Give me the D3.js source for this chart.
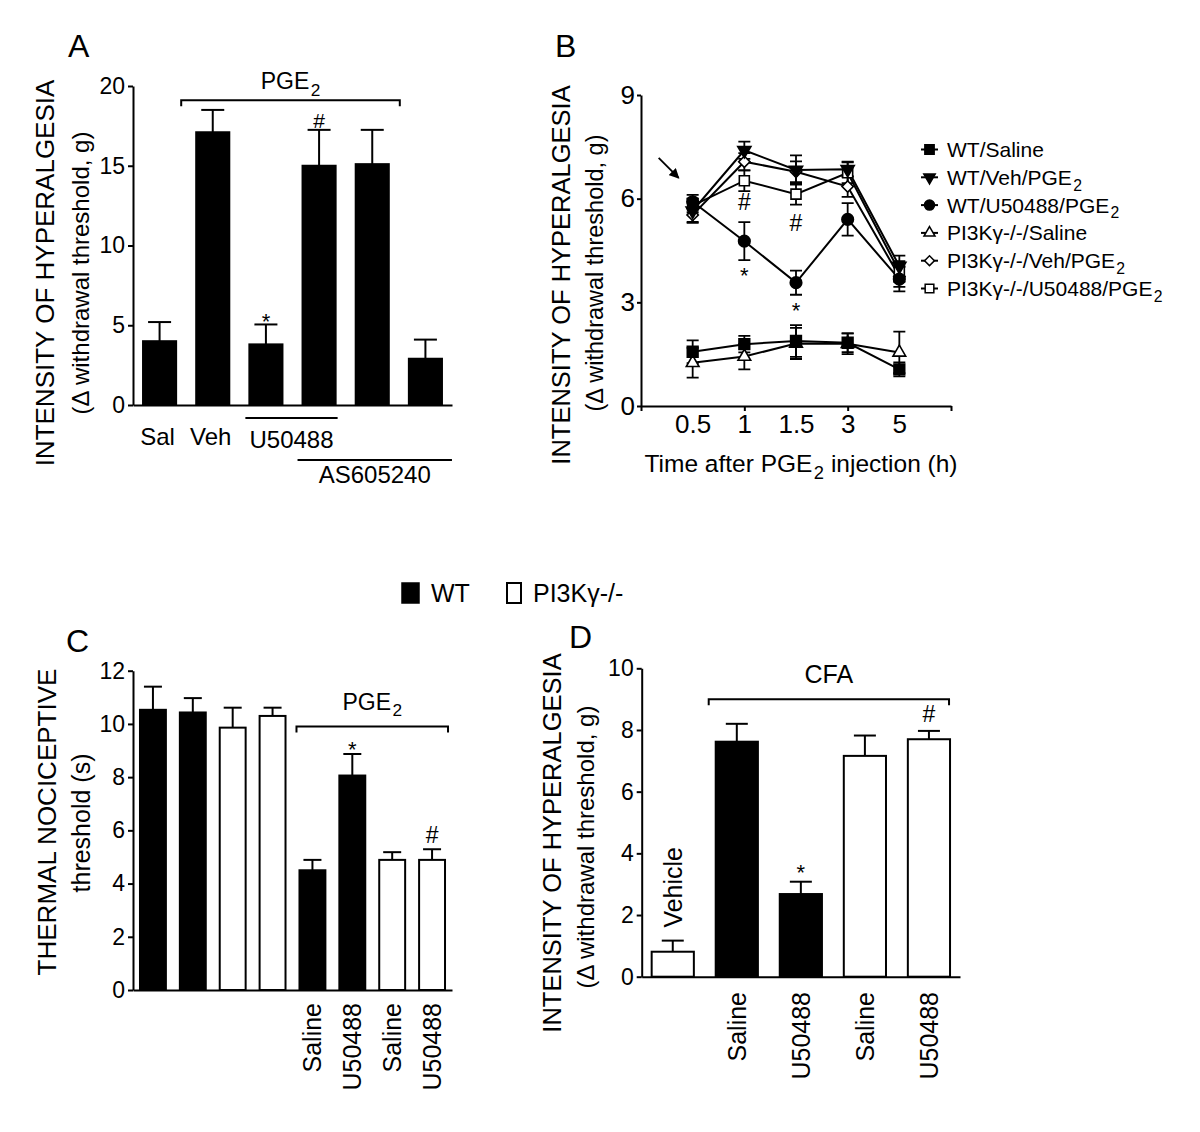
<!DOCTYPE html>
<html><head><meta charset="utf-8">
<script src="https://cdn.jsdelivr.net/npm/d3@7"></script>
<style>
body{margin:0;background:#fff}
svg{display:block}
text{font-family:"Liberation Sans",Arial,Helvetica,sans-serif;fill:#000}
</style>
</head><body>
<svg id="fig" width="1200" height="1132"></svg>
<script>
// ---------------- DATA ----------------
// Panel A
const aCategories = ["Sal", "Veh", "U50488", "U50488+AS605240", "AS605240", "AS605240 alone"];
const aMeans = [4.0, 17.1, 3.8, 15.0, 15.1, 2.9];
const aSEM = [1.2, 1.4, 1.25, 2.25, 2.15, 1.2];
const aMarks = ["", "", "*", "#", "", ""];
const aTicks = [0, 5, 10, 15, 20];

// Panel B
const bTimes = ["0.5", "1", "1.5", "3", "5"];
const bNames = ["WT/Saline", "WT/Veh/PGE2", "WT/U50488/PGE2", "PI3K\u03b3-/-/Saline", "PI3K\u03b3-/-/Veh/PGE2", "PI3K\u03b3-/-/U50488/PGE2"];
const bWTSaline = [1.57, 1.79, 1.88, 1.83, 1.06];
const bWTSalineSEM = [0.33, 0.24, 0.46, 0.27, 0.2];
const bWTVeh = [5.65, 7.4, 6.83, 6.85, 4.05];
const bWTVehSEM = [0.35, 0.25, 0.42, 0.22, 0.3];
const bWTU50488 = [5.91, 4.77, 3.57, 5.4, 3.67];
const bWTU50488SEM = [0.2, 0.55, 0.35, 0.47, 0.35];
const bKOSaline = [1.25, 1.43, 1.81, 1.8, 1.55];
const bKOSalineSEM = [0.43, 0.37, 0.45, 0.3, 0.6];
const bKOVeh = [5.53, 7.07, 6.78, 6.35, 3.75];
const bKOVehSEM = [0.2, 0.25, 0.3, 0.3, 0.3];
const bKOU50488 = [5.8, 6.52, 6.13, 6.75, 3.89];
const bKOU50488SEM = [0.2, 0.3, 0.3, 0.3, 0.3];
const bTicks = [0, 3, 6, 9];

// Panel C
const cGenotype = ["WT", "WT", "PI3K", "PI3K", "WT", "WT", "PI3K", "PI3K"];
const cLabels = ["", "", "", "", "Saline", "U50488", "Saline", "U50488"];
const cMeans = [10.53, 10.43, 9.86, 10.3, 4.5, 8.06, 4.89, 4.89];
const cSEM = [0.87, 0.54, 0.75, 0.31, 0.39, 0.81, 0.29, 0.4];
const cMarks = ["", "", "", "", "", "*", "", "#"];
const cTicks = [0, 2, 4, 6, 8, 10, 12];

// Panel D
const dGenotype = ["PI3K", "WT", "WT", "PI3K", "PI3K"];
const dLabels = ["Vehicle", "Saline", "U50488", "Saline", "U50488"];
const dMeans = [0.81, 7.62, 2.68, 7.16, 7.7];
const dSEM = [0.36, 0.58, 0.4, 0.66, 0.27];
const dMarks = ["", "", "*", "", "#"];
const dTicks = [0, 2, 4, 6, 8, 10];

const legendGenotypes = ["WT", "PI3K\u03b3-/-"];

// ---------------- HELPERS ----------------
const svg = d3.select("#fig");
svg.append("rect").attr("width", 1200).attr("height", 1132).attr("fill", "#fff");
const FILL = {WT: "#000", PI3K: "#fff"};

// text with automatic subscript for the 2 of "PGE2"
function addText(g, x, y, content, o) {
  const t = g.append("text")
    .attr("transform", `translate(${x},${y})` + (o.rotate ? ` rotate(${o.rotate})` : ""))
    .attr("font-size", o.size)
    .attr("text-anchor", o.anchor || "start");
  if (o.dy) t.attr("dy", o.dy);
  let parts = [];
  const re = /PGE2/g; let last = 0, m;
  while ((m = re.exec(content)) !== null) {
    parts.push([content.slice(last, m.index) + "PGE", false]);
    parts.push(["2", true]);
    last = m.index + 4;
  }
  parts.push([content.slice(last), false]);
  parts = parts.filter(p => p[0].length);
  let prevSub = false;
  const shift = o.size * 0.28;
  parts.forEach(([s, sub]) => {
    const ts = t.append("tspan").text(s);
    if (sub) ts.attr("font-size", o.size * 0.75).attr("dx", o.size * 0.06);
    if (sub && !prevSub) ts.attr("dy", shift);
    else if (!sub && prevSub) ts.attr("dy", -shift);
    prevSub = sub;
  });
  return t;
}

function styleAxis(g, fs, sw) {
  g.selectAll(".domain").attr("stroke", "#000").attr("stroke-width", sw || 2);
  g.selectAll(".tick line").attr("stroke", "#000").attr("stroke-width", sw || 2);
  g.selectAll(".tick text").attr("font-size", fs).attr("fill", "#000")
    .attr("font-family", '"Liberation Sans",Arial,sans-serif');
  g.attr("font-family", null).attr("font-size", null);
}

function bracket(g, x1, x2, y, drop) {
  g.append("path").attr("d", `M${x1},${y + drop}V${y}H${x2}V${y + drop}`)
    .attr("fill", "none").attr("stroke", "#000").attr("stroke-width", 2);
}

function barPanel(cfg) {
  const g = svg.append("g");
  const x = d3.scaleBand().domain(d3.range(cfg.means.length)).range([cfg.x0, cfg.x1])
    .paddingInner(cfg.pi).paddingOuter(cfg.po);
  const y = d3.scaleLinear().domain(cfg.domain).range([cfg.yb, cfg.yt]);
  const bw = x.bandwidth();
  cfg.means.forEach((v, i) => {
    const cx = x(i) + bw / 2;
    g.append("line").attr("x1", cx).attr("x2", cx).attr("y1", y(v)).attr("y2", y(v + cfg.sem[i]))
      .attr("stroke", "#000").attr("stroke-width", 2);
    g.append("line").attr("x1", cx - cfg.cap / 2).attr("x2", cx + cfg.cap / 2)
      .attr("y1", y(v + cfg.sem[i])).attr("y2", y(v + cfg.sem[i]))
      .attr("stroke", "#000").attr("stroke-width", 2);
  });
  g.selectAll("rect.bar").data(cfg.means).join("rect").attr("class", "bar")
    .attr("x", (d, i) => x(i) + 1).attr("width", bw - 2)
    .attr("y", d => y(d)).attr("height", d => y(0) - y(d))
    .attr("fill", (d, i) => cfg.fill[i]).attr("stroke", "#000").attr("stroke-width", 2);
  const ya = g.append("g").attr("transform", `translate(${cfg.x0},0)`)
    .call(d3.axisLeft(y).tickValues(cfg.ticks).tickSize(5).tickSizeOuter(0).tickPadding(3));
  styleAxis(ya, cfg.tickFs);
  const xa = g.append("g").attr("transform", `translate(0,${cfg.yb})`)
    .call(d3.axisBottom(x).tickSize(0).tickSizeOuter(0).tickFormat(""));
  styleAxis(xa, cfg.tickFs);
  cfg.marks.forEach((m, i) => {
    if (!m) return;
    const top = y(cfg.means[i] + cfg.sem[i]);
    addText(g, x(i) + bw / 2, top + (m === "*" ? cfg.starOff : cfg.hashOff), m,
      {size: m === "*" ? cfg.starFs : cfg.hashFs, anchor: "middle"});
  });
  return {g, x, y, bw};
}

// ---------------- PANEL A ----------------
{
  const P = barPanel({means: aMeans, sem: aSEM, domain: [0, 20], ticks: aTicks,
    x0: 133, x1: 452, yb: 405, yt: 86, pi: 0.34, po: 0.17, cap: 23, tickFs: 23,
    fill: aMeans.map(() => "#000"), marks: aMarks, starOff: 5, hashOff: -2, starFs: 22, hashFs: 21});
  const {g, x, y, bw} = P;
  addText(g, 68, 57, "A", {size: 32});
  addText(g, 45, 273, "INTENSITY OF HYPERALGESIA", {size: 26, anchor: "middle", rotate: -90, dy: "0.36em"});
  addText(g, 82, 273, "(\u0394 withdrawal threshold, g)", {size: 24, anchor: "middle", rotate: -90, dy: "0.3em"});
  const bx1 = x(1) - 14, bx2 = x(4) + bw + 10, by = y(19.1);
  bracket(g, bx1, bx2, by, 6);
  addText(g, (bx1 + bx2) / 2, by - 11, "PGE2", {size: 23, anchor: "middle"});
  addText(g, x(0) + bw / 2 - 2, 445, aCategories[0], {size: 24, anchor: "middle"});
  addText(g, x(1) + bw / 2 - 2, 445, aCategories[1], {size: 24, anchor: "middle"});
  const u1 = x(2) - 3, u2 = x(3) + bw + 1;
  g.append("line").attr("x1", u1).attr("x2", u2).attr("y1", 418).attr("y2", 418).attr("stroke", "#000").attr("stroke-width", 2);
  addText(g, (u1 + u2) / 2, 448, "U50488", {size: 24, anchor: "middle"});
  const a1 = x(3) - 4, a2 = x(5) + bw + 9;
  g.append("line").attr("x1", a1).attr("x2", a2).attr("y1", 460).attr("y2", 460).attr("stroke", "#000").attr("stroke-width", 2);
  addText(g, (a1 + a2) / 2, 483, "AS605240", {size: 24, anchor: "middle"});
}

// ---------------- PANEL B ----------------
{
  const g = svg.append("g");
  const xB = d3.scaleLinear().domain([0, bTimes.length + 1]).range([641, 951]);
  const yB = d3.scaleLinear().domain([0, 9]).range([406, 95]);
  const tri = d3.symbolTriangle;
  const series = [
    {name: bNames[0], v: bWTSaline, e: bWTSalineSEM, type: d3.symbolSquare, size: 115, rot: 0, filled: true},
    {name: bNames[1], v: bWTVeh, e: bWTVehSEM, type: tri, size: 75, rot: 180, filled: true},
    {name: bNames[2], v: bWTU50488, e: bWTU50488SEM, type: d3.symbolCircle, size: 105, rot: 0, filled: true},
    {name: bNames[3], v: bKOSaline, e: bKOSalineSEM, type: tri, size: 70, rot: 0, filled: false},
    {name: bNames[4], v: bKOVeh, e: bKOVehSEM, type: d3.symbolSquare, size: 64, rot: 45, filled: false},
    {name: bNames[5], v: bKOU50488, e: bKOU50488SEM, type: d3.symbolSquare, size: 100, rot: 0, filled: false}
  ];
  const line = d3.line().x((d, i) => xB(i + 1)).y(d => yB(d));
  series.forEach(s => {
    g.append("path").attr("d", line(s.v)).attr("fill", "none").attr("stroke", "#000").attr("stroke-width", 2);
  });
  series.forEach(s => {
    s.v.forEach((v, i) => {
      const cx = xB(i + 1);
      g.append("path").attr("d", `M${cx},${yB(v - s.e[i])}V${yB(v + s.e[i])}M${cx - 6},${yB(v + s.e[i])}h12M${cx - 6},${yB(v - s.e[i])}h12`)
        .attr("stroke", "#000").attr("stroke-width", 1.8).attr("fill", "none");
    });
  });
  const order = [3, 4, 5, 0, 1, 2];
  order.forEach(k => {
    const s = series[k];
    s.v.forEach((v, i) => {
      g.append("path").attr("d", d3.symbol().type(s.type).size(s.size)())
        .attr("transform", `translate(${xB(i + 1)},${yB(v)}) rotate(${s.rot})`)
        .attr("fill", s.filled ? "#000" : "#fff").attr("stroke", "#000").attr("stroke-width", 1.6);
    });
  });
  const ya = g.append("g").attr("transform", "translate(641,0)")
    .call(d3.axisLeft(yB).tickValues(bTicks).tickSize(4).tickSizeOuter(0).tickPadding(2));
  styleAxis(ya, 26);
  const xa = g.append("g").attr("transform", "translate(0,406)")
    .call(d3.axisBottom(xB).tickValues([0, 2, 4, 6]).tickSize(5).tickSizeOuter(0).tickFormat(""));
  styleAxis(xa, 25);
  const xl = g.append("g").attr("transform", "translate(0,406)")
    .call(d3.axisBottom(xB).tickValues(d3.range(1, bTimes.length + 1)).tickSize(0).tickPadding(9)
      .tickFormat(i => bTimes[i - 1]));
  xl.select(".domain").remove();
  styleAxis(xl, 26);
  addText(g, 555, 57, "B", {size: 32});
  addText(g, 561, 275, "INTENSITY OF HYPERALGESIA", {size: 25.5, anchor: "middle", rotate: -90, dy: "0.36em"});
  addText(g, 596, 273, "(\u0394 withdrawal threshold, g)", {size: 23.5, anchor: "middle", rotate: -90, dy: "0.3em"});
  addText(g, 801, 472, "Time after PGE2 injection (h)", {size: 24.5, anchor: "middle"});
  const defs = svg.append("defs");
  defs.append("marker").attr("id", "ah").attr("viewBox", "0 0 10 10").attr("refX", 9).attr("refY", 5)
    .attr("markerWidth", 10).attr("markerHeight", 10).attr("markerUnits", "userSpaceOnUse").attr("orient", "auto")
    .append("path").attr("d", "M0,0L10,5L0,10z").attr("fill", "#000");
  const tipX = xB(1) - 14, tipY = yB(6.6);
  g.append("line").attr("x1", tipX - 20).attr("y1", tipY - 20).attr("x2", tipX).attr("y2", tipY)
    .attr("stroke", "#000").attr("stroke-width", 1.8).attr("marker-end", "url(#ah)");
  addText(g, xB(2), yB(5.67), "#", {size: 23, anchor: "middle"});
  addText(g, xB(3), yB(5.07), "#", {size: 23, anchor: "middle"});
  addText(g, xB(2), yB(bWTU50488[1] - bWTU50488SEM[1]) + 23, "*", {size: 22, anchor: "middle"});
  addText(g, xB(3), yB(bWTU50488[2] - bWTU50488SEM[2]) + 23, "*", {size: 22, anchor: "middle"});
  series.forEach((s, i) => {
    const ly = 149.5 + i * 27.8;
    g.append("line").attr("x1", 921).attr("x2", 938).attr("y1", ly).attr("y2", ly).attr("stroke", "#000").attr("stroke-width", 2);
    g.append("path").attr("d", d3.symbol().type(s.type).size(s.size * 0.75)())
      .attr("transform", `translate(929.5,${ly}) rotate(${s.rot})`)
      .attr("fill", s.filled ? "#000" : "#fff").attr("stroke", "#000").attr("stroke-width", 1.5);
    addText(g, 947, ly + 7.5, s.name, {size: 21});
  });
}

// ---------------- TOP LEGEND ----------------
{
  const g = svg.append("g");
  g.append("rect").attr("x", 402).attr("y", 583).attr("width", 17).attr("height", 20)
    .attr("fill", FILL.WT).attr("stroke", "#000").attr("stroke-width", 1.5);
  addText(g, 431, 602, legendGenotypes[0], {size: 25});
  g.append("rect").attr("x", 507).attr("y", 583).attr("width", 14).attr("height", 20)
    .attr("fill", FILL.PI3K).attr("stroke", "#000").attr("stroke-width", 2);
  addText(g, 533, 602, legendGenotypes[1], {size: 25});
}

// ---------------- PANEL C ----------------
{
  const P = barPanel({means: cMeans, sem: cSEM, domain: [0, 12], ticks: cTicks,
    x0: 133, x1: 452, yb: 990, yt: 670.7, pi: 0.3, po: 0.15, cap: 18, tickFs: 23,
    fill: cGenotype.map(d => FILL[d]), marks: cMarks, starOff: 3, hashOff: -6, starFs: 22, hashFs: 23});
  const {g, x, y, bw} = P;
  addText(g, 66, 652, "C", {size: 32});
  addText(g, 47, 822, "THERMAL NOCICEPTIVE", {size: 26, anchor: "middle", rotate: -90, dy: "0.36em"});
  addText(g, 82, 823, "threshold (s)", {size: 25, anchor: "middle", rotate: -90, dy: "0.3em"});
  const bx1 = x(4) - 2, bx2 = x(7) + bw + 2, by = y(9.9);
  bracket(g, bx1, bx2, by, 6);
  addText(g, (bx1 + bx2) / 2, by - 17, "PGE2", {size: 23, anchor: "middle"});
  cLabels.forEach((l, i) => {
    if (!l) return;
    addText(g, x(i) + x.bandwidth() / 2, 1003, l, {size: 25, anchor: "end", rotate: -90, dy: "0.36em"});
  });
}

// ---------------- PANEL D ----------------
{
  const P = barPanel({means: dMeans, sem: dSEM, domain: [0, 10], ticks: dTicks,
    x0: 641.7, x1: 960, yb: 976.7, yt: 668.3, pi: 0.31, po: 0.14, cap: 22, tickFs: 23,
    fill: dGenotype.map(d => FILL[d]), marks: dMarks, starOff: -2, hashOff: -9, starFs: 22, hashFs: 23});
  const {g, x, y, bw} = P;
  addText(g, 569, 648, "D", {size: 32});
  addText(g, 552, 843, "INTENSITY OF HYPERALGESIA", {size: 25.5, anchor: "middle", rotate: -90, dy: "0.36em"});
  addText(g, 587, 847, "(\u0394 withdrawal threshold, g)", {size: 24, anchor: "middle", rotate: -90, dy: "0.3em"});
  const bx1 = x(1) - 6, bx2 = x(4) + bw - 2, by = y(9.0);
  bracket(g, bx1, bx2, by, 6);
  addText(g, (bx1 + bx2) / 2, by - 16, "CFA", {size: 25, anchor: "middle"});
  addText(g, x(0) + bw / 2, y(dMeans[0] + dSEM[0]) - 13, dLabels[0], {size: 25, anchor: "start", rotate: -90, dy: "0.36em"});
  dLabels.slice(1).forEach((l, k) => {
    const i = k + 1;
    addText(g, x(i) + bw / 2, 992, l, {size: 25, anchor: "end", rotate: -90, dy: "0.36em"});
  });
}
</script>
</body></html>
